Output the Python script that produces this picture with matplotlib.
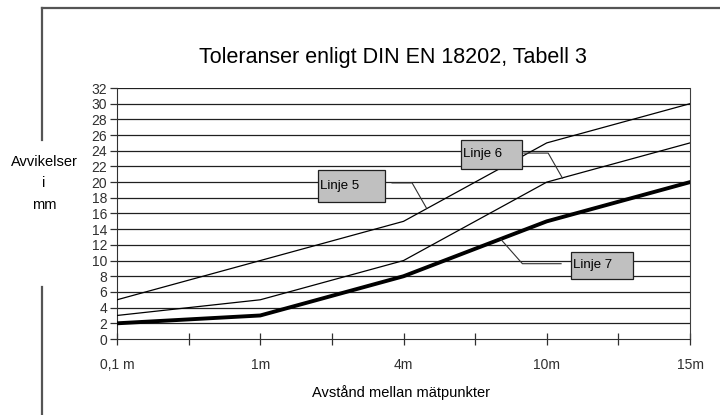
# Toleranser enligt DIN EN 18202 - line chart recreation
import matplotlib
matplotlib.use('Agg')
import matplotlib.pyplot as plt
from matplotlib.patches import Rectangle
from matplotlib.lines import Line2D

# Data
categories = ['0,1 m', '1m', '4m', '10m', '15m']
linje_5 = [5, 10, 15, 25, 30]
linje_6 = [3, 5, 10, 20, 25]
linje_7 = [2, 3, 8, 15, 20]
y_ticks = list(range(0, 34, 2))

body_font = ['Liberation Sans', 'DejaVu Sans']
tick_font = ['Liberation Sans', 'DejaVu Sans']

fig = plt.figure(figsize=(7.2, 4.15), dpi=100)
fig.set_facecolor('white')
ax = fig.add_axes([117 / 720, 1 - 339 / 415, (690 - 117) / 720, (339 - 88) / 415])

x = list(range(len(categories)))

# Grid lines
for v in y_ticks[1:]:
    ax.axhline(v, color='#202020', lw=0.9, zorder=1)

ax.plot(x, linje_5, color='black', lw=0.9, zorder=3)
ax.plot(x, linje_6, color='black', lw=0.9, zorder=3)
ax.plot(x, linje_7, color='black', lw=2.8, zorder=3)

ax.set_xlim(0, len(categories) - 1)
ax.set_ylim(0, 32)

ax.spines['top'].set_visible(False)
ax.spines['right'].set_color('#404040')
ax.spines['left'].set_color('#303030')
ax.spines['bottom'].set_color('#303030')

ax.set_yticks(y_ticks)
ax.set_yticklabels([str(v) for v in y_ticks], family=tick_font, fontsize=10,
                   color='#303030', fontstretch='condensed')
ax.tick_params(axis='y', length=5, width=0.9, color='#303030', pad=2)

ax.set_xticks(x)
ax.set_xticklabels(categories, family=tick_font, fontsize=10, color='#303030')
ax.set_xticks([i + 0.5 for i in x[:-1]], minor=True)
ax.tick_params(axis='x', which='both', direction='inout', length=8, width=0.9,
               color='#303030', pad=10)

# Title and axis labels
fig.text(393 / 720, 1 - 58 / 415, 'Toleranser enligt DIN EN 18202, Tabell 3',
         family=body_font, fontsize=15.5, ha='center', va='center')
fig.text(44 / 720, 1 - 162 / 415, 'Avvikelser', family=body_font, fontsize=10.5,
         ha='center', va='center')
fig.text(44 / 720, 1 - 183 / 415, 'i', family=body_font, fontsize=10.5,
         ha='center', va='center')
fig.text(44 / 720, 1 - 205 / 415, 'mm', family=body_font, fontsize=10.5,
         ha='center', va='center')
fig.text(401 / 720, 1 - 393 / 415, 'Avstånd mellan mätpunkter', family=body_font,
         fontsize=10.5, ha='center', va='center')

# Outer frame fragments
frame_col = '#555555'
fig.add_artist(Line2D([42 / 720, 1.0], [1 - 8 / 415, 1 - 8 / 415], color=frame_col, lw=1.6))
fig.add_artist(Line2D([42 / 720, 42 / 720], [1 - 8 / 415, 1 - 140 / 415], color=frame_col, lw=1.6))
fig.add_artist(Line2D([42 / 720, 42 / 720], [1 - 287 / 415, 0.0], color=frame_col, lw=1.6))

# Callout boxes with leader lines (data coordinates)
labels = [
    ('Linje 5', (1.40, 17.5), 0.47, 4.1, [(1.92, 19.9), (2.06, 19.9), (2.16, 16.7)]),
    ('Linje 6', (2.40, 21.7), 0.43, 3.7, [(2.84, 23.7), (3.01, 23.7), (3.11, 20.5)]),
    ('Linje 7', (3.17, 7.65), 0.43, 3.45, [(3.10, 9.6), (2.83, 9.6), (2.68, 12.7)]),
]
for text, (bx, by), bw, bh, leader in labels:
    ax.add_patch(Rectangle((bx, by), bw, bh, facecolor='#c0c0c0', edgecolor='#202020',
                           lw=0.9, zorder=5))
    ax.text(bx + 0.015, by + bh / 2, text, family=body_font, fontsize=9.5,
            ha='left', va='center', zorder=6)
    ax.plot([p[0] for p in leader], [p[1] for p in leader], color='#303030',
            lw=0.8, zorder=4)

fig.savefig('out.png', dpi=100, facecolor='white')
